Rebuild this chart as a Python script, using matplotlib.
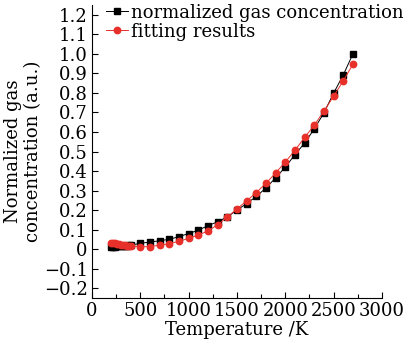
import matplotlib
matplotlib.use("Agg")
import matplotlib.pyplot as plt
from matplotlib.ticker import MultipleLocator, FuncFormatter

# measured data (black squares)
temp_meas = [200, 220, 240, 260, 280, 300, 320, 340, 360, 380, 400,
             500, 600, 700, 800, 900, 1000, 1100, 1200, 1300, 1400, 1500, 1600,
             1700, 1800, 1900, 2000, 2100, 2200, 2300, 2400, 2500, 2600, 2700]
conc_meas = [0.012, 0.013, 0.013, 0.014, 0.015, 0.016, 0.016, 0.017, 0.018, 0.019, 0.020,
             0.030, 0.036, 0.043, 0.050, 0.064, 0.080, 0.097, 0.120, 0.140, 0.165, 0.200, 0.233,
             0.270, 0.313, 0.365, 0.420, 0.484, 0.543, 0.616, 0.698, 0.799, 0.892, 1.000]

# fitting results (red circles)
temp_fit = temp_meas
conc_fit = [0.033, 0.031, 0.029, 0.027, 0.025, 0.023, 0.021, 0.019, 0.017, 0.016, 0.015,
            0.012, 0.013, 0.020, 0.028, 0.040, 0.055, 0.072, 0.093, 0.125, 0.163, 0.206, 0.247,
            0.290, 0.337, 0.390, 0.446, 0.506, 0.572, 0.635, 0.707, 0.783, 0.862, 0.947]

plt.rcParams['font.family'] = ['DejaVu Serif']
plt.rcParams['font.size'] = 13

fig = plt.figure(figsize=(4.08, 3.44), dpi=100)
ax = fig.add_axes([0.2255, 0.134, 0.7105, 0.851])

ax.plot(temp_meas, conc_meas, '-s', color='black', lw=0.7, ms=4, label='normalized gas concentration')
ax.plot(temp_fit, conc_fit, '-o', color='#e8302a', lw=0.7, ms=4.6, label='fitting results')

ax.set_xlim(0, 3000)
ax.set_ylim(-0.25, 1.25)
ax.xaxis.set_major_locator(MultipleLocator(500))
ax.xaxis.set_minor_locator(MultipleLocator(250))
ax.yaxis.set_major_locator(MultipleLocator(0.1))


def yfmt(v, pos):
    if abs(v) < 1e-9:
        return '0'
    return ('%.1f' % v).replace('-', '\u2212')


ax.yaxis.set_major_formatter(FuncFormatter(yfmt))
ax.tick_params(direction='in', length=4, width=0.8, labelsize=13, pad=3)
ax.tick_params(which='minor', direction='in', length=3, width=0.8)
for s in ['top', 'right']:
    ax.spines[s].set_visible(False)

ax.set_xlabel('Temperature /K', labelpad=1)
ax.set_ylabel('Normalized gas\nconcentration (a.u.)', labelpad=1)

ax.legend(loc='upper left', bbox_to_anchor=(0.025, 1.03), frameon=False,
          handlelength=1.2, handletextpad=0.15, labelspacing=0.05, borderaxespad=0)

fig.savefig('out.png', dpi=100)
